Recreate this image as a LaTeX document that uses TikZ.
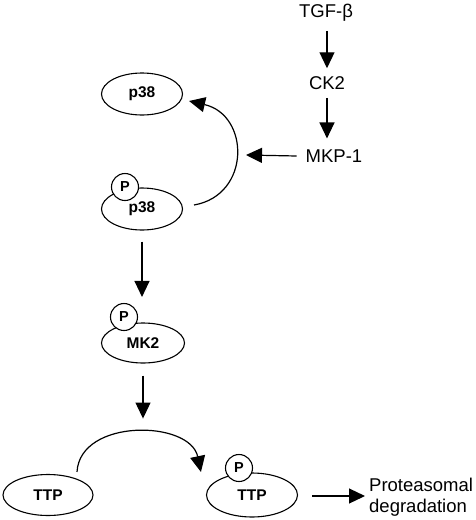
\documentclass[tikz,border=0pt]{standalone}
\usepackage{fontspec}
\setmainfont{Liberation Sans}
\usetikzlibrary{shapes.geometric,arrows.meta}
\begin{document}
\begin{tikzpicture}[x=1pt,y=-1pt,
  prot/.style={draw,ellipse,line width=1.1pt,inner sep=0pt,minimum width=81pt,minimum height=42pt,font=\fontsize{15.5}{15.5}\selectfont\bfseries,fill=white},
  phos/.style={draw,circle,line width=1.1pt,inner sep=0pt,minimum size=27pt,font=\fontsize{14.5}{14.5}\selectfont\bfseries,fill=white},
  lbl/.style={inner sep=0pt,font=\fontsize{18.5}{21.5}\selectfont},
  arr/.style={line width=1.2pt,-{Triangle[length=16pt,width=15pt]}}]
\useasboundingbox (0,0) rectangle (475,520);
% top chain
\node[lbl] (tgf) at (326,13) {TGF-β};
\node[lbl] (ck2) at (327,83) {CK2};
\node[lbl] (mkp) at (334,156) {MKP-1};
\draw[arr] ([shift={(1,9)}]tgf.south) -- ([shift={(0,-8)}]ck2.north);
\draw[arr] ([shift={(0,8)}]ck2.south) -- ([shift={(0,-11)}]ck2.south |- mkp.north);
% p38
\node[prot] (p38a) at (142,94) {p38};
\node[prot] (p38b) at (142,209) {p38};
\node[phos] (pp38) at (125,187) {P};
\coordinate (hit) at (246,155);
\draw[arr]
  ([shift={(11,-4)}]p38b.east) .. controls (251,195) and (250,115) .. ([shift={(6,7)}]p38a.east);
\draw[arr] ([shift={(-9,0)}]mkp.west) -- (hit);
% MK2
\node[prot,minimum width=83pt,minimum height=40pt] (mk2) at (143,343) {MK2};
\node[phos] (pmk) at (124,317) {P};
\draw[arr] ([shift={(0,11)}]p38b.south) -- ([shift={(0,-6)}]p38b.south |- pmk.north);
% TTP
\node[prot,minimum width=90pt,minimum height=41pt] (ttpa) at (48,495) {TTP};
\node[prot,minimum width=91pt,minimum height=44pt] (ttpb) at (252,495) {TTP};
\node[phos] (pttp) at (239,468) {P};
\draw[arr]
  ([shift={(29,-2)}]ttpa.north) .. controls (80,418) and (190,420) .. ([shift={(-24,4)}]pttp.west);
\draw[arr] ([shift={(0,12)}]mk2.south) -- ++(0,43);
% degradation
\node[lbl,anchor=west,align=left] (deg) at (369,497) {Proteasomal\\degradation};
\draw[arr] ([shift={(14,1)}]ttpb.east) -- ([shift={(-4,-1)}]deg.west);
\end{tikzpicture}
\end{document}
